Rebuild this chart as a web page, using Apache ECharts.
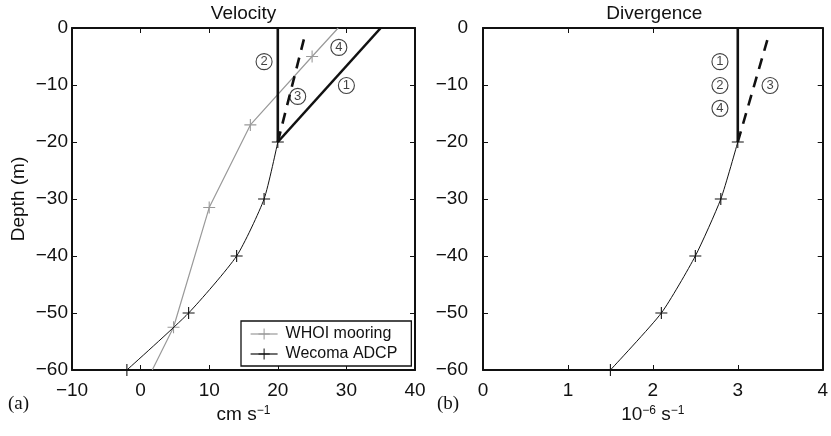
<!DOCTYPE html>
<html><head><meta charset="utf-8">
<script src="https://cdn.jsdelivr.net/npm/echarts@6/dist/echarts.min.js"></script>
<style>html,body{margin:0;padding:0;background:#fff}#c{width:831px;height:436px}</style>
</head><body><div id="c"></div>
<script>
// ---------- Data ----------
// (a) Velocity panel
const whoiVel = [28.8, 25, 16, 10, 4.8, 1.7];
const whoiDepth = [0, -5, -17, -31.5, -52.5, -60];
const whoiMarked = [false, true, true, true, true, false];
const adcpVel = [20, 18, 14, 7, -2];
const adcpDepth = [-20, -30, -40, -50, -60];
const velCase1 = [[20, -20], [35, 0]];
const velCase2 = [[20, -20], [20, 0]];
const velCase3 = [[20, -20], [23.8, -2]];
const velTags = ['1', '2', '3', '4'];
const velTagX = [30, 18, 22.9, 28.9];
const velTagY = [-10.1, -5.9, -12, -3.4];
// (b) Divergence panel
const divVal = [3, 2.8, 2.5, 2.1, 1.5];
const divDepth = [-20, -30, -40, -50, -60];
const divCase124 = [[3, -20], [3, 0]];
const divCase3 = [[3, -20], [3.35, -2]];
const divTags = ['1', '2', '4', '3'];
const divTagX = [2.79, 2.79, 2.79, 3.38];
const divTagY = [-5.9, -10.1, -14.1, -10.1];
// axes
const velTicks = { min: -10, max: 40, interval: 10 };
const divTicks = { min: 0, max: 4, interval: 1 };
const depthTicks = { min: -60, max: 0, interval: 10 };

// ---------- Chart ----------
const FONT = 'Liberation Sans, Arial, Helvetica, sans-serif';
const SERIF = 'Liberation Serif, Times New Roman, serif';
const minus = v => String(v).replace('-', '\u2212');
const PLUS = 'path://M4.55,0 H5.45 V4.55 H10 V5.45 H5.45 V10 H4.55 V5.45 H0 V4.55 H4.55 Z';

function xAxis(gi, pos, t, labels, name) {
  return {
    type: 'value', gridIndex: gi, position: pos, min: t.min, max: t.max, interval: t.interval,
    axisLine: { show: true, onZero: false, lineStyle: { color: '#111', width: 2 } },
    axisTick: { show: true, inside: true, length: 5, lineStyle: { color: '#111', width: 1 } },
    axisLabel: { show: labels, margin: 11, fontSize: 19, fontFamily: FONT, color: '#111', formatter: minus },
    splitLine: { show: false },
    name: name || '', nameLocation: 'middle', nameGap: 32,
    nameTextStyle: { color: '#111', fontFamily: FONT, rich: {
      n: { fontSize: 19, fontFamily: FONT, color: '#111' },
      s: { fontSize: 12, fontFamily: FONT, color: '#111', verticalAlign: 'top' }
    } }
  };
}
function yAxis(gi, pos, labels, margin, name) {
  return {
    type: 'value', gridIndex: gi, position: pos, min: depthTicks.min, max: depthTicks.max, interval: depthTicks.interval,
    axisLine: { show: true, onZero: false, lineStyle: { color: '#111', width: 2 } },
    axisTick: { show: true, inside: true, length: 5, lineStyle: { color: '#111', width: 1 } },
    axisLabel: { show: labels, margin: margin, fontSize: 19, fontFamily: FONT, color: '#111', formatter: minus },
    splitLine: { show: false },
    name: name || '', nameLocation: 'middle', nameGap: 44,
    nameTextStyle: { fontSize: 19, fontFamily: FONT, color: '#111' }
  };
}
function pairs(xs, ys) { return xs.map((x, i) => [x, ys[i]]); }
function tagSeries(xi, yi, tags, xs, ys) {
  return {
    type: 'scatter', xAxisIndex: xi, yAxisIndex: yi, symbol: 'circle', symbolSize: 16, silent: true, z: 5,
    itemStyle: { color: 'rgba(255,255,255,0)', borderColor: '#111', borderWidth: 1.1 },
    label: { show: true, position: 'inside', fontSize: 13, fontFamily: FONT, color: '#111',
      formatter: p => tags[p.dataIndex] },
    data: pairs(xs, ys)
  };
}
function thick(xi, yi, data, dashed) {
  return {
    type: 'line', xAxisIndex: xi, yAxisIndex: yi, symbol: 'none', silent: true, z: 4,
    lineStyle: { color: '#111', width: 2.6, type: dashed ? [11, 8] : 'solid' },
    data: data
  };
}

const chart = echarts.init(document.getElementById('c'), null, { renderer: 'canvas' });
chart.setOption({
  animation: false,
  backgroundColor: '#fff',
  grid: [
    { left: 72, top: 28, width: 343, height: 342 },
    { left: 483, top: 28, width: 342, height: 342 }
  ],
  xAxis: [
    xAxis(0, 'bottom', velTicks, true, '{n|cm s}{s|\u22121}'),
    xAxis(0, 'top', velTicks, false),
    xAxis(1, 'bottom', divTicks, true, '{n|10}{s|\u22126}{n| s}{s|\u22121}'),
    xAxis(1, 'top', divTicks, false)
  ],
  yAxis: [
    yAxis(0, 'left', true, 4, 'Depth (m)'),
    yAxis(0, 'right', false, 4),
    yAxis(1, 'left', true, 15),
    yAxis(1, 'right', false, 4)
  ],
  legend: {
    data: ['WHOI mooring', 'Wecoma ADCP'],
    orient: 'vertical', left: 241, top: 321,
    padding: [5, 14, 4, 9], itemGap: 4, itemWidth: 27, itemHeight: 14,
    borderColor: '#111', borderWidth: 1.3, backgroundColor: '#fff',
    lineStyle: { width: 1.2 },
    textStyle: { fontSize: 16, fontFamily: FONT, color: '#111', padding: [0, 0, 0, 3] },
    selectedMode: false
  },
  graphic: [
    { type: 'text', x: 243.5, y: 13.5, style: { text: 'Velocity', font: '19px ' + FONT, fill: '#111', align: 'center', verticalAlign: 'middle' } },
    { type: 'text', x: 654.3, y: 13.5, style: { text: 'Divergence', font: '19px ' + FONT, fill: '#111', align: 'center', verticalAlign: 'middle' } },
    { type: 'text', x: 8, y: 404, style: { text: '(a)', font: '19px ' + SERIF, fill: '#111', align: 'left', verticalAlign: 'middle' } },
    { type: 'text', x: 437, y: 404, style: { text: '(b)', font: '19px ' + SERIF, fill: '#111', align: 'left', verticalAlign: 'middle' } }
  ],
  series: [
    {
      name: 'WHOI mooring', type: 'line', xAxisIndex: 0, yAxisIndex: 0,
      symbol: PLUS, symbolSize: 12, showAllSymbol: true, z: 2,
      lineStyle: { color: '#999', width: 1.2 }, itemStyle: { color: '#999' },
      data: whoiVel.map((v, i) => whoiMarked[i] ? { value: [v, whoiDepth[i]] } : { value: [v, whoiDepth[i]], symbol: 'none' })
    },
    {
      name: 'Wecoma ADCP', type: 'line', xAxisIndex: 0, yAxisIndex: 0,
      symbol: PLUS, symbolSize: 12, showAllSymbol: true, smooth: 0.2, z: 3,
      lineStyle: { color: '#111', width: 1 }, itemStyle: { color: '#111' },
      data: pairs(adcpVel, adcpDepth)
    },
    thick(0, 0, velCase1, false),
    thick(0, 0, velCase2, false),
    thick(0, 0, velCase3, true),
    tagSeries(0, 0, velTags, velTagX, velTagY),
    {
      type: 'line', xAxisIndex: 2, yAxisIndex: 2,
      symbol: PLUS, symbolSize: 12, showAllSymbol: true, smooth: 0.2, z: 3,
      lineStyle: { color: '#111', width: 1 }, itemStyle: { color: '#111' },
      data: pairs(divVal, divDepth)
    },
    thick(2, 2, divCase124, false),
    thick(2, 2, divCase3, true),
    tagSeries(2, 2, divTags, divTagX, divTagY)
  ]
});
</script>
</body></html>
